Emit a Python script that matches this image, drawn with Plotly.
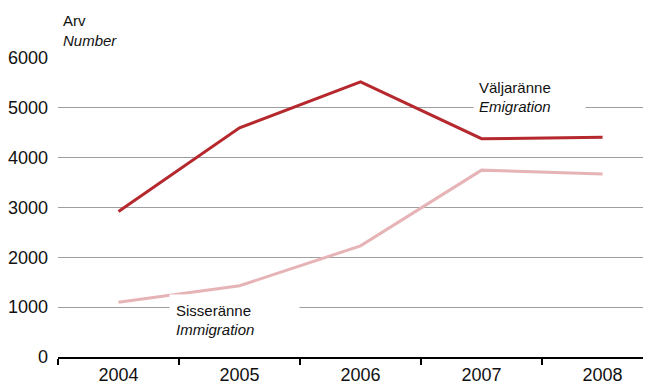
import plotly.graph_objects as go

years = ['2004', '2005', '2006', '2007', '2008']
emigration = [2920, 4600, 5520, 4380, 4410]   # Väljaränne
immigration = [1100, 1430, 2230, 3750, 3670]  # Sisseränne
y_ticks = [0, 1000, 2000, 3000, 4000, 5000, 6000]

font_family = 'Liberation Sans, Arial, sans-serif'

fig = go.Figure()
fig.add_trace(go.Scatter(x=years, y=immigration, mode='lines',
                         line=dict(color='#e6b4b6', width=3), showlegend=False))
fig.add_trace(go.Scatter(x=years, y=emigration, mode='lines',
                         line=dict(color='#b5292e', width=3), showlegend=False))

#labels with white box so the gridlines look broken behind them
fig.add_annotation(x=3.40, y=5000, xref='x', yref='y', text='Väljaränne<br><i>Emigration</i>',
                   showarrow=False, bgcolor='white', width=101, height=38, borderpad=5,
                   align='left', yshift=11, font=dict(size=15, color='#111'))
fig.add_annotation(x=0.96, y=1000, xref='x', yref='y', text='Sisseränne<br><i>Immigration</i>',
                   showarrow=False, bgcolor='white', width=117, height=38, borderpad=6,
                   align='left', yshift=-13, font=dict(size=15, color='#111'))
fig.add_annotation(x=0, y=1.16, xref='paper', yref='paper', text='Arv<br><i>Number</i>',
                   showarrow=False, xanchor='left', yanchor='top', align='left', xshift=3,
                   font=dict(size=15, color='#111'))

#page body has an 8px margin, so margins are trimmed by 8
fig.update_layout(
    width=651, height=392,
    margin=dict(l=50, r=8, t=50, b=43),
    paper_bgcolor='white', plot_bgcolor='white',
    font=dict(family=font_family, size=18, color='#111'),
    xaxis=dict(type='category', range=[-0.5, 4.4], showgrid=False, automargin=False,
               showline=True, linecolor='black', linewidth=2,
               ticks='outside', tickson='boundaries', ticklen=6, tickcolor='black', tickwidth=1.5,
               tickfont=dict(size=18)),
    yaxis=dict(range=[0, 6000], tickvals=y_ticks, showgrid=True, gridcolor='#9e9e9e', gridwidth=1,
               zeroline=False, showline=False, ticks='', ticklabelstandoff=9, automargin=False,
               tickfont=dict(size=18)),
)

fig.write_html("out.html")
